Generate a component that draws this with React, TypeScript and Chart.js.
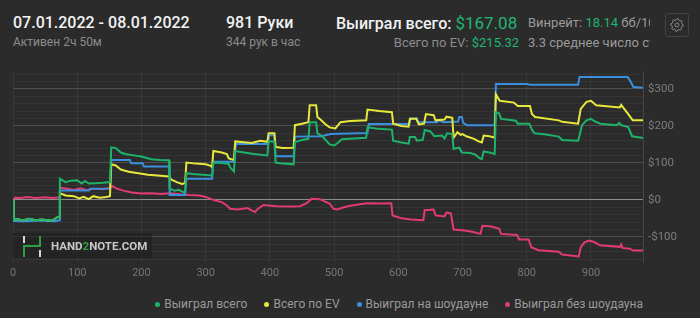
import React, { useEffect, useRef } from "react";
import { Chart, registerables } from "chart.js";

Chart.register(...registerables);

// ---------- data (hands, $) ----------
const HAND_TICKS = [0, 100, 200, 300, 400, 500, 600, 700, 800, 900];
const TOTAL_HANDS = 981;
const Y_MIN = -168;
const Y_MAX = 346;

const wonTotal: [number, number][] = [
  [0, 0], [1, -54], [8, -52], [15, -56], [25, -51], [35, -55], [45, -53], [55, -56], [63, -54], [68, -48], [72, -46],
  [73, 57], [82, 48], [90, 52], [100, 53], [107, 44], [112, 51], [118, 44], [128, 45], [140, 46], [151, 48],
  [153, 142], [160, 140], [168, 128], [175, 124], [185, 121], [200, 117], [215, 110], [230, 108], [243, 107],
  [244, 30], [252, 25], [258, 27], [266, 20], [268, 22], [270, 72], [280, 70], [295, 68], [310, 66],
  [312, 101], [325, 100], [336, 97], [338, 88], [344, 77], [346, 132], [360, 128], [375, 124], [396, 120],
  [398, 158], [407, 158], [409, 101], [420, 98], [437, 96], [439, 156], [450, 162], [460, 165], [462, 210], [472, 210],
  [474, 180], [482, 171], [493, 150], [500, 147], [505, 153], [512, 164], [530, 166], [550, 168],
  [552, 196], [565, 193], [580, 191], [590, 190], [592, 160], [605, 155], [616, 152], [618, 170], [626, 170],
  [629, 160], [638, 162], [641, 189], [650, 185], [656, 172], [668, 174], [672, 166], [676, 180], [684, 178],
  [686, 138], [695, 141], [699, 128], [712, 127], [720, 122], [727, 112], [730, 110], [733, 131], [742, 128], [750, 124],
  [752, 237], [757, 234], [760, 219], [775, 216], [783, 214], [786, 206], [804, 206], [808, 190], [812, 180],
  [830, 177], [850, 171], [855, 162], [880, 160], [883, 180], [886, 202], [893, 215], [900, 219], [906, 212],
  [915, 206], [940, 202], [944, 208], [947, 202], [958, 197], [964, 172], [981, 167],
];

const totalEV: [number, number][] = [
  [0, 0], [1, -54], [8, -52], [15, -56], [25, -51], [35, -55], [45, -53], [55, -56], [63, -54], [68, -48], [72, -46],
  [73, 18], [82, 12], [95, 10], [103, 4], [110, 8], [118, 2], [125, 10], [135, 6], [145, 8], [151, 10],
  [153, 96], [160, 93], [168, 82], [180, 76], [195, 72], [210, 68], [225, 66], [243, 63], [246, 55], [255, 48],
  [263, 43], [268, 45], [270, 101], [285, 98], [300, 96], [308, 92], [310, 88], [312, 132], [325, 128], [333, 124],
  [336, 112], [344, 108], [346, 158], [360, 156], [372, 154], [385, 160], [396, 157], [398, 180], [407, 180],
  [409, 143], [420, 140], [437, 141], [439, 202], [450, 206], [460, 210], [462, 256], [472, 256], [474, 224],
  [480, 215], [486, 205], [493, 196], [502, 193], [510, 210], [525, 213], [550, 215], [552, 244], [570, 240],
  [590, 237], [592, 206], [605, 200], [616, 198], [618, 219], [628, 219], [632, 204], [640, 206], [643, 232],
  [655, 229], [658, 215], [672, 217], [675, 225], [684, 222], [686, 168], [692, 183], [697, 176], [700, 178],
  [706, 172], [718, 165], [725, 158], [730, 155], [733, 174], [742, 172], [750, 168], [752, 285], [758, 268],
  [780, 263], [786, 254], [805, 254], [808, 232], [813, 224], [850, 215], [855, 211], [880, 206], [884, 246],
  [893, 265], [900, 268], [908, 256], [945, 250], [947, 257], [950, 250], [958, 232], [965, 215], [981, 215],
];

const wonShowdown: [number, number][] = [
  [0, 0], [1, -57], [20, -58], [40, -56], [66, -58], [72, -55], [73, 25], [118, 25], [120, 30], [151, 31],
  [153, 108], [182, 108], [184, 99], [202, 99], [204, 90], [243, 90], [244, 13], [268, 13], [270, 57], [310, 57],
  [312, 103], [345, 103], [347, 151], [397, 151], [399, 175], [407, 175], [409, 118], [437, 118], [439, 171],
  [480, 172], [495, 178], [552, 181], [554, 205], [617, 205], [619, 220], [629, 220], [631, 210], [660, 210],
  [663, 215], [670, 210], [693, 212], [695, 224], [699, 224], [701, 208], [707, 202], [750, 202], [752, 313],
  [800, 313], [805, 311], [880, 311], [882, 332], [957, 332], [961, 322], [966, 305], [981, 303],
];

const wonNoShowdown: [number, number][] = [
  [0, 0], [4, 6], [12, 5], [22, 8], [35, 5], [50, 7], [62, 5], [72, 7], [73, 33], [85, 30], [95, 27], [105, 31],
  [115, 26], [125, 30], [140, 29], [151, 33], [155, 37], [162, 30], [172, 25], [185, 20], [200, 17], [215, 18],
  [230, 16], [245, 18], [260, 15], [275, 13], [291, 12], [300, 8], [312, 0], [325, -6], [333, -15], [338, -24],
  [350, -26], [365, -22], [377, -33], [380, -26], [390, -14], [410, -17], [430, -18], [447, -17], [458, -8],
  [465, 3], [478, 2], [485, -4], [493, -10], [499, -24], [505, -26], [515, -20], [525, -16], [540, -12], [551, -9],
  [570, -10], [589, -9], [591, -42], [605, -50], [620, -53], [639, -55], [641, -28], [655, -26], [658, -42],
  [672, -45], [675, -34], [682, -37], [686, -80], [700, -82], [715, -86], [728, -92], [731, -70], [745, -72],
  [757, -78], [760, -92], [785, -95], [788, -107], [803, -107], [807, -128], [818, -136], [850, -140], [855, -148],
  [881, -153], [884, -128], [890, -115], [897, -110], [905, -114], [914, -123], [945, -127], [947, -120],
  [949, -130], [960, -132], [966, -137], [981, -137],
];

const SERIES_LABELS = ["Выиграл всего", "Всего по EV", "Выиграл на шоудауне", "Выиграл без шоудауна"];
const SERIES_COLORS = ["#1db36b", "#e8e83c", "#3a8fdf", "#e23a72"];
const SERIES_DATA = [wonTotal, totalEV, wonShowdown, wonNoShowdown];

const BG = "#2b2b2b";
const FONT = "Roboto, 'Noto Sans', sans-serif";
const GREEN_TEXT = "#1fb672";

function fmtMoney(v: number) {
  return v < 0 ? `-$${-v}` : `$${v}`;
}

function Gear() {
  const pts: string[] = [];
  const teeth = 8;
  for (let i = 0; i < teeth * 4; i++) {
    const a = (i / (teeth * 4)) * Math.PI * 2 - Math.PI / 2;
    const r = i % 4 === 0 || i % 4 === 1 ? 6.3 : 4.9;
    pts.push(`${(7 + r * Math.cos(a)).toFixed(2)},${(7 + r * Math.sin(a)).toFixed(2)}`);
  }
  return (
    <svg width="14" height="14" viewBox="0 0 14 14">
      <polygon points={pts.join(" ")} fill="none" stroke="#8a8a8a" strokeWidth="1" strokeLinejoin="round" />
      <circle cx="7" cy="7" r="2" fill="none" stroke="#8a8a8a" strokeWidth="1" />
    </svg>
  );
}

function Logo() {
  return (
    <svg width="22" height="22" viewBox="0 0 22 22">
      <rect x="1" y="0" width="2" height="7" fill="#d8d8d8" />
      <rect x="1" y="9" width="2" height="12" fill="#2e9e3e" />
      <rect x="1" y="9" width="18" height="2" fill="#2e9e3e" />
      <rect x="17" y="0" width="2" height="11" fill="#2e9e3e" />
      <rect x="17" y="14" width="2" height="7" fill="#d8d8d8" />
    </svg>
  );
}

export default function App() {
  const canvasRef = useRef<HTMLCanvasElement | null>(null);

  useEffect(() => {
    document.body.style.margin = "0";
    document.body.style.background = BG;
    const canvas = canvasRef.current;
    if (!canvas) return;
    const chart = new Chart(canvas, {
      type: "line",
      data: {
        datasets: SERIES_DATA.map((series, i) => ({
          label: SERIES_LABELS[i],
          data: series.map(([x, y]) => ({ x, y })),
          borderColor: SERIES_COLORS[i],
          backgroundColor: SERIES_COLORS[i],
          borderWidth: 2,
          pointRadius: 0,
          tension: 0,
          fill: false,
        })),
      },
      options: {
        animation: false,
        responsive: false,
        maintainAspectRatio: false,
        layout: { padding: { left: 13, top: 6.5, right: 0, bottom: 0 } },
        plugins: { legend: { display: false }, tooltip: { enabled: false } },
        scales: {
          x: {
            type: "linear",
            min: 0,
            max: TOTAL_HANDS,
            afterBuildTicks: (s: any) => {
              s.ticks = HAND_TICKS.map((v) => ({ value: v }));
            },
            afterFit: (s: any) => {
              s.height = 23;
            },
            grid: { color: "#393939", drawTicks: false, lineWidth: 1 },
            border: { display: false },
            ticks: {
              color: "#767676",
              font: { family: FONT, size: 11 },
              padding: 5,
              maxRotation: 0,
              autoSkip: false,
            },
          },
          y: {
            type: "linear",
            position: "right",
            min: Y_MIN,
            max: Y_MAX,
            afterBuildTicks: (s: any) => {
              const t: { value: number }[] = [];
              for (let v = Math.ceil(Y_MIN / 20) * 20; v <= Y_MAX; v += 20) t.push({ value: v });
              s.ticks = t;
            },
            afterFit: (s: any) => {
              s.width = 57;
            },
            grid: {
              drawTicks: false,
              lineWidth: 1,
              color: (ctx: any) => {
                const v = ctx.tick ? ctx.tick.value : 1;
                if (v === 0) return "#8c8c8c";
                if (v % 100 === 0) return "#4f4f4f";
                return "#353535";
              },
            },
            border: { display: true, color: "#454545" },
            ticks: {
              color: "#7e7e7e",
              font: { family: FONT, size: 11.5 },
              padding: 5,
              autoSkip: false,
              callback: (v: any) => (Number(v) % 100 === 0 ? fmtMoney(Number(v)) : ""),
            },
          },
        },
      },
    });
    return () => chart.destroy();
  }, []);

  const abs = (left: number, top: number, size: number, color: string, weight = 400): React.CSSProperties => ({
    position: "absolute",
    left,
    top,
    fontSize: size,
    lineHeight: `${size}px`,
    color,
    fontWeight: weight,
    whiteSpace: "nowrap",
  });

  return (
    <div style={{ position: "relative", width: 700, height: 318, background: BG, fontFamily: FONT, overflow: "hidden" }}>
      <div style={abs(13, 14.8, 16, "#f2f2f2", 500)}>07.01.2022 - 08.01.2022</div>
      <div style={abs(13, 36.4, 12, "#8c8c8c")}>Активен 2ч 50м</div>
      <div style={abs(226, 14.8, 16, "#f2f2f2", 500)}>981 Руки</div>
      <div style={abs(226, 36.4, 12, "#8c8c8c")}>344 рук в час</div>
      <div style={abs(336, 14.8, 16, "#f2f2f2", 500)}>
        Выиграл всего: <span style={{ color: GREEN_TEXT, fontWeight: 400, fontSize: 17 }}>$167.08</span>
      </div>
      <div style={{ ...abs(0, 35.6, 13, "#8c8c8c"), left: "auto", right: 700 - 519 }}>
        Всего по EV: <span style={{ color: GREEN_TEXT }}>$215.32</span>
      </div>
      <div style={{ ...abs(528, 15.8, 13, "#9a9a9a"), width: 122, overflow: "hidden" }}>
        Винрейт: <span style={{ color: GREEN_TEXT }}>18.14</span> бб/100
      </div>
      <div style={{ ...abs(528, 35.6, 13, "#9a9a9a"), width: 122, overflow: "hidden" }}>
        3.3 среднее число столов
      </div>
      <div
        style={{
          position: "absolute",
          left: 665,
          top: 13,
          width: 24,
          height: 24,
          boxSizing: "border-box",
          border: "1px solid #444",
          borderRadius: 3,
          display: "flex",
          alignItems: "center",
          justifyContent: "center",
        }}
      >
        <Gear />
      </div>

      <canvas ref={canvasRef} width={700} height={225} style={{ position: "absolute", left: 0, top: 60, width: 700, height: 225 }} />

      <div
        style={{
          position: "absolute",
          left: 13,
          top: 233,
          width: 139,
          height: 25,
          background: "rgba(30,30,30,0.55)",
          display: "flex",
          alignItems: "center",
        }}
      >
        <div style={{ marginLeft: 9, marginTop: 2, display: "flex" }}>
          <Logo />
        </div>
        <div style={{ marginLeft: 7, fontSize: 11.5, fontWeight: 700, color: "#c8c8c8", letterSpacing: 0 }}>
          HAND<span style={{ color: "#2e9e3e" }}>2</span>NOTE.COM
        </div>
      </div>

      <div
        style={{
          position: "absolute",
          right: 700 - 643,
          top: 297,
          display: "flex",
          gap: 17,
          fontSize: 12,
          lineHeight: "14px",
          color: "#9a9a9a",
        }}
      >
        {SERIES_LABELS.map((label, i) => (
          <div key={label} style={{ display: "flex", alignItems: "center" }}>
            <span
              style={{
                display: "inline-block",
                width: 5,
                height: 5,
                borderRadius: "50%",
                background: SERIES_COLORS[i],
                marginRight: 4,
              }}
            />
            {label}
          </div>
        ))}
      </div>
    </div>
  );
}
